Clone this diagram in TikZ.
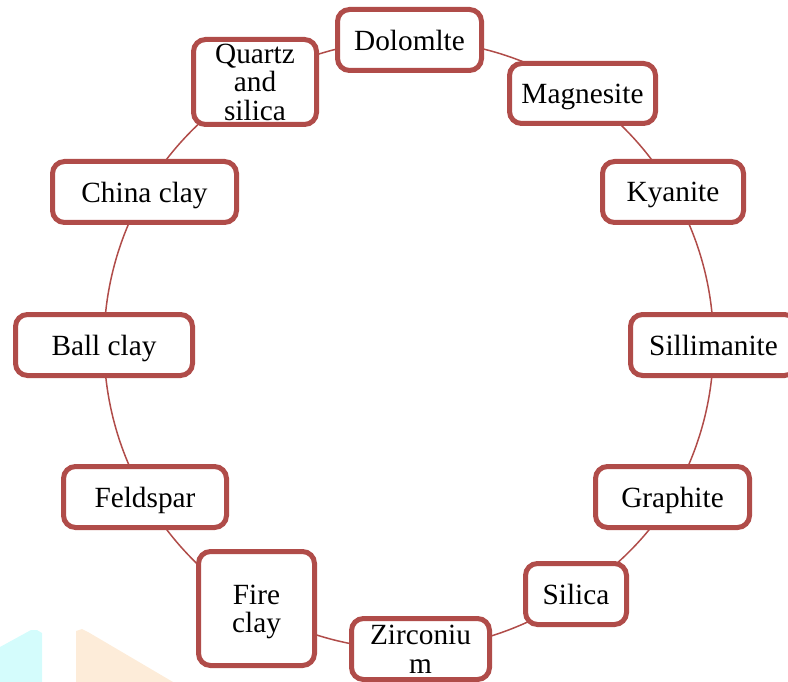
\documentclass[tikz,border=0pt]{standalone}
\usepackage{fontspec}
\setmainfont{Liberation Serif}
\usetikzlibrary{backgrounds}
\definecolor{boxred}{RGB}{176,76,73}
\definecolor{wmcyan}{RGB}{212,252,252}
\definecolor{wmorange}{RGB}{253,236,217}
\newcommand{\ml}[1]{\vbox{\baselineskip=28.7pt\lineskiplimit=-100pt\halign{\hfil\rule{0pt}{19.8pt}##\hfil\cr#1\crcr}}}
\tikzset{
  mbox/.style={draw=boxred, line width=5pt, rounded corners=12pt, fill=white,
    inner sep=0pt, text depth=0pt, font=\fontsize{29.3}{28.7}\selectfont},
  conn/.style={draw=boxred, line width=1.5pt, looseness=0.87},
}
\begin{document}
\begin{tikzpicture}[x=1pt,y=-1pt]
\useasboundingbox (0,0) rectangle (788,682);
\clip (0,0) rectangle (788,682);
% nodes
\node[mbox, minimum width=144, minimum height=61] (dol) at (409.5,40) {\ml{Dolomlte}};
\node[mbox, minimum width=146, minimum height=60] (mag) at (582.5,93.5) {\ml{Magnesite}};
\node[mbox, minimum width=141, minimum height=61] (kya) at (673,192) {\ml{Kyanite}};
\node[mbox, minimum width=166, minimum height=61] (sil) at (713.5,345) {\ml{Sillimanite}};
\node[mbox, minimum width=154, minimum height=61] (gra) at (672.5,497) {\ml{Graphite}};
\node[mbox, minimum width=101, minimum height=61] (sli) at (576,594) {\ml{Silica}};
\node[mbox, minimum width=138, minimum height=61] (zir) at (420.5,649) {\ml{Zirconiu\cr m}};
\node[mbox, minimum width=116, minimum height=114] (fir) at (256.5,608.5) {\ml{Fire\cr clay}};
\node[mbox, minimum width=163, minimum height=61] (fel) at (145,497) {\ml{Feldspar}};
\node[mbox, minimum width=177, minimum height=61] (bal) at (104,345) {\ml{Ball clay}};
\node[mbox, minimum width=184, minimum height=61] (chi) at (144.5,192) {\ml{China clay}};
\node[mbox, minimum width=123, minimum height=85] (qua) at (255,82) {\ml{Quartz\cr and\cr silica}};
\begin{scope}[on background layer]
% faint watermark shapes
\fill[wmcyan] (0,682) -- (0,647) -- (31,630) -- (37,630) -- (42,633) -- (42,682) -- cycle;
\fill[wmorange] (76,682) -- (76,631) -- (82,629) -- (88,632) -- (173,682) -- cycle;
% circular connectors, centre to centre, hidden under the boxes
\draw[conn] (dol.center) to[bend left=17.3] (mag.center);
\draw[conn] (mag.center) to[bend left=12.7] (kya.center);
\draw[conn] (kya.center) to[bend left=15.1] (sil.center);
\draw[conn] (sil.center) to[bend left=15] (gra.center);
\draw[conn] (gra.center) to[bend left=13.1] (sli.center);
\draw[conn] (sli.center) to[bend left=15.9] (zir.center);
\draw[conn] (zir.center) to[bend left=16.1] (fir.center);
\draw[conn] (fir.center) to[bend left=15] (fel.center);
\draw[conn] (fel.center) to[bend left=14.9] (bal.center);
\draw[conn] (bal.center) to[bend left=15] (chi.center);
\draw[conn] (chi.center) to[bend left=14.8] (qua.center);
\draw[conn] (qua.center) to[bend left=14.8] (dol.center);
\end{scope}
\end{tikzpicture}
\end{document}
